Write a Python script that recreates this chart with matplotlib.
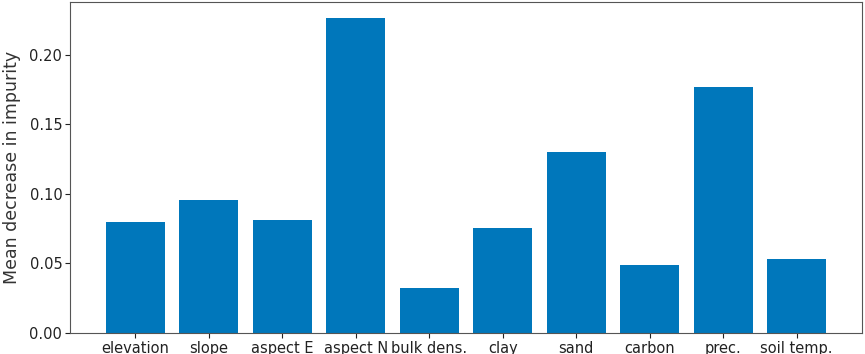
import matplotlib
matplotlib.use("Agg")
import matplotlib.pyplot as plt

categories = ["elevation", "slope", "aspect E", "aspect N", "bulk dens.",
              "clay", "sand", "carbon", "prec.", "soil temp."]
importance = [0.080, 0.0955, 0.081, 0.2265, 0.032, 0.0755, 0.130, 0.0485, 0.177, 0.0535]

fig = plt.figure(figsize=(8.65, 3.54), dpi=100)
ax = fig.add_axes([70/865, 1 - 333/354, 792/865, 331/354])
ax.bar(categories, importance, color="#0077BB")
ax.set_ylabel("Mean decrease in impurity", fontsize=12.5, color="#333333", labelpad=6)
ax.tick_params(axis="both", labelsize=10.5, colors="#222222", length=3.5, pad=2)
ax.set_yticks([0.00, 0.05, 0.10, 0.15, 0.20])
ax.set_yticklabels(["0.00", "0.05", "0.10", "0.15", "0.20"])
for s in ax.spines.values():
    s.set_color("#555555")
fig.savefig("out.png", dpi=100)
